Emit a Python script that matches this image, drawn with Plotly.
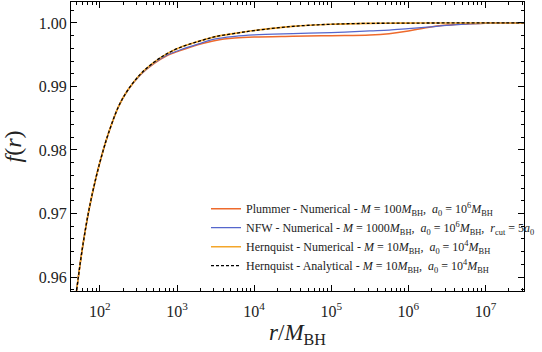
import plotly.graph_objects as go

# log10(r / M_BH) grid the curves were read on
log_r = [1.6, 1.7, 1.78, 1.86, 1.95, 2.03, 2.11, 2.24, 2.36, 2.53, 2.70, 2.86, 3.03, 3.28,
         3.5, 3.75, 4.0, 4.5, 5.0, 5.5, 5.75, 6.0, 6.25, 6.5, 6.75, 7.0, 7.25, 7.5]
r_vals = [10 ** v for v in log_r]

f_hern_analytical = [0.9478, 0.9581, 0.9651, 0.9707, 0.9757, 0.9794, 0.9826, 0.9868, 0.9894,
                     0.9920, 0.9938, 0.9951, 0.9961, 0.9971, 0.99785, 0.99836, 0.9988, 0.99946,
                     0.9998, 0.99994, 0.99996, 0.99998, 0.99999, 1.0, 1.0, 1.0, 1.0, 1.0]
f_hern_numerical = list(f_hern_analytical)
f_plummer = [0.9478, 0.9581, 0.9651, 0.9707, 0.9757, 0.9794, 0.9826, 0.9868, 0.9894,
             0.9919, 0.9936, 0.9948, 0.9956, 0.9966, 0.99725, 0.99762, 0.99778, 0.99790,
             0.99800, 0.99810, 0.99830, 0.99872, 0.99930, 0.99966, 0.99985, 0.99995, 1.0, 1.0]
f_nfw = [0.9478, 0.9581, 0.9651, 0.9707, 0.9757, 0.9794, 0.9826, 0.9868, 0.9894,
         0.9919, 0.9937, 0.9949, 0.9957, 0.9967, 0.99750, 0.99790, 0.99812, 0.99832,
         0.99848, 0.99875, 0.99888, 0.99912, 0.99935, 0.99962, 0.99982, 0.99993, 1.0, 1.0]

x_tickvals = [1e2, 1e3, 1e4, 1e5, 1e6, 1e7]
x_ticktext = ["10<sup>2</sup>", "10<sup>3</sup>", "10<sup>4</sup>",
              "10<sup>5</sup>", "10<sup>6</sup>", "10<sup>7</sup>"]
y_tickvals = [0.96, 0.97, 0.98, 0.99, 1.00]
y_ticktext = ["0.96", "0.97", "0.98", "0.99", "1.00"]

SERIF = "Liberation Serif, DejaVu Serif, serif"
MBH = "<i>M</i><sub>BH</sub>"
names = [
    f"Plummer - Numerical - <i>M</i> = 100{MBH},  <i>a</i><sub>0</sub> = 10<sup>6</sup>{MBH}",
    f"NFW - Numerical - <i>M</i> = 1000{MBH},  <i>a</i><sub>0</sub> = 10<sup>6</sup>{MBH},  "
    f"<i>r</i><sub>cut</sub> = 5<i>a</i><sub>0</sub>",
    f"Hernquist - Numerical - <i>M</i> = 10{MBH},  <i>a</i><sub>0</sub> = 10<sup>4</sup>{MBH}",
    f"Hernquist - Analytical - <i>M</i> = 10{MBH},  <i>a</i><sub>0</sub> = 10<sup>4</sup>{MBH}",
]

fig = go.Figure()
fig.add_trace(go.Scatter(x=r_vals, y=f_plummer, mode="lines", name=names[0],
                         line=dict(color="#ee6a2c", width=1.5, shape="spline")))
fig.add_trace(go.Scatter(x=r_vals, y=f_nfw, mode="lines", name=names[1],
                         line=dict(color="#5566cc", width=1.2, shape="spline")))
fig.add_trace(go.Scatter(x=r_vals, y=f_hern_numerical, mode="lines", name=names[2],
                         line=dict(color="#f4a62a", width=1.6, shape="spline")))
fig.add_trace(go.Scatter(x=r_vals, y=f_hern_analytical, mode="lines", name=names[3],
                         line=dict(color="black", width=1.3, dash="3px,2px", shape="spline")))

axis_common = dict(
    showgrid=False, zeroline=False, showline=True, linecolor="black", linewidth=1,
    mirror="ticks", ticks="inside", ticklen=6, tickcolor="black", automargin=False,
    tickfont=dict(family=SERIF, size=16, color="#222"),
)

fig.update_xaxes(
    type="log", range=[1.625, 7.5], tickvals=x_tickvals, ticktext=x_ticktext,
    ticklabelstandoff=6,
    minor=dict(ticks="inside", ticklen=3, tickcolor="black", dtick="D1"),
    title=dict(text=f"<i>r</i>/{MBH}", font=dict(family=SERIF, size=23, color="#222"),
               standoff=4),
    **axis_common,
)
fig.update_yaxes(
    range=[0.9578, 1.0033], tickvals=y_tickvals, ticktext=y_ticktext,
    minor=dict(ticks="inside", ticklen=3, tickcolor="black", dtick=0.002),
    title=dict(text="<i>f</i>(<i>r</i>)", font=dict(family=SERIF, size=24, color="#222"),
               standoff=12),
    **axis_common,
)

fig.update_layout(
    width=542, height=352,
    margin=dict(l=71, r=2, t=2, b=61),
    plot_bgcolor="white", paper_bgcolor="white",
    font=dict(family=SERIF, color="#222"),
    legend=dict(x=0.298, y=0.335, xanchor="left", yanchor="top",
                bgcolor="rgba(0,0,0,0)", font=dict(family=SERIF, size=12),
                tracegroupgap=0, itemwidth=30),
    showlegend=True,
)

# the page body has a default 8px margin; drop it so the figure sits at the corner
fig.write_html("out.html", config={"displayModeBar": False},
               post_script="document.body.style.margin='0px';")
